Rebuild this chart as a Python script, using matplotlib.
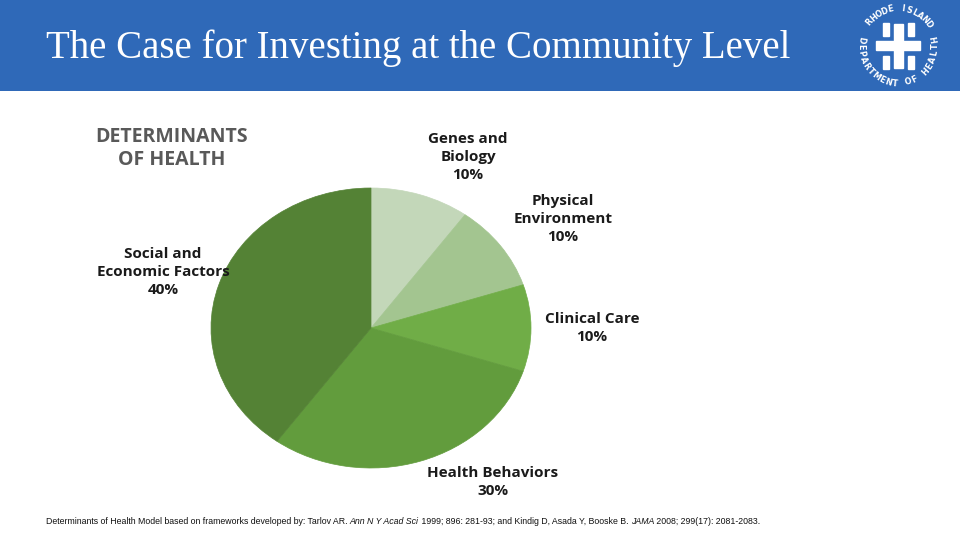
import numpy as np
import matplotlib
matplotlib.use("Agg")
import matplotlib.pyplot as plt
from matplotlib.patches import Rectangle, Circle

# ---- data ----
categories = ["Genes and\nBiology", "Physical\nEnvironment", "Clinical Care",
              "Health Behaviors", "Social and\nEconomic Factors"]
values = [10, 10, 10, 30, 40]
colors = ["#c3d7b9", "#a3c590", "#70ad47", "#629c3d", "#548235"]
title = "The Case for Investing at the Community Level"
chart_heading = "DETERMINANTS\nOF HEALTH"
footnote_parts = [
    ("Determinants of Health Model based on frameworks developed by: Tarlov AR. ", "normal"),
    ("Ann N Y Acad Sci", "italic"),
    (" 1999; 896: 281-93; and Kindig D, Asada Y, Booske B. ", "normal"),
    ("JAMA", "italic"),
    (" 2008; 299(17): 2081-2083.", "normal"),
]

W, H = 960, 540
fig = plt.figure(figsize=(W / 100, H / 100), dpi=100)
fig.patch.set_facecolor("white")

def fx(px):
    return px / W

def fy(py):
    return 1 - py / H

# header band
fig.patches.append(Rectangle((0, fy(91)), 1, 91 / H, transform=fig.transFigure,
                             facecolor="#2f69b8", edgecolor="none", zorder=0))
fig.text(fx(46), fy(48), title, color="white", fontsize=28,
         family="Liberation Serif", va="center", ha="left")

# logo (approximation)
lax = fig.add_axes([fx(850), fy(94), 96 / W, 96 / H], zorder=5)
lax.set_xlim(-1, 1); lax.set_ylim(-1, 1); lax.axis("off")
lax.patch.set_alpha(0)
top_txt = "RHODE ISLAND"
ang = np.linspace(140, 35, len(top_txt))
for ch, a in zip(top_txt, ang):
    r = 0.78
    lax.text(r * np.cos(np.radians(a)), r * np.sin(np.radians(a)), ch, color="white",
             fontsize=5.8, ha="center", va="center", rotation=a - 90, family="DejaVu Sans",
             fontweight="bold")
bot_txt = "DEPARTMENT OF HEALTH"
ang2 = np.linspace(170, 370, len(bot_txt))
for ch, a in zip(bot_txt, ang2):
    r = 0.78
    lax.text(r * np.cos(np.radians(a)), r * np.sin(np.radians(a)), ch, color="white",
             fontsize=5.8, ha="center", va="center", rotation=a + 90, family="DejaVu Sans",
             fontweight="bold")
lax.add_patch(Rectangle((-0.45, -0.08), 0.9, 0.18, color="white"))
lax.add_patch(Rectangle((-0.08, -0.45), 0.18, 0.9, color="white"))
lax.add_patch(Rectangle((-0.32, 0.2), 0.14, 0.28, color="white"))
lax.add_patch(Rectangle((-0.32, -0.48), 0.14, 0.28, color="white"))
lax.add_patch(Rectangle((0.2, 0.2), 0.14, 0.28, color="white"))
lax.add_patch(Rectangle((0.2, -0.48), 0.14, 0.28, color="white"))

# pie (slightly elliptical)
ax = fig.add_axes([fx(211), fy(468), 320 / W, 280 / H])
wedges, _ = ax.pie(values, colors=colors, startangle=90, counterclock=False,
                   wedgeprops=dict(linewidth=0.5))
for w, c in zip(wedges, colors):
    w.set_edgecolor(c)
ax.set_aspect("auto")
ax.set_xlim(-1, 1); ax.set_ylim(-1, 1)
ax.axis("off")

# labels
label_font = dict(family="Open Sans", fontweight="bold", fontsize=11, color="#1a1a1a",
                  ha="center", va="center", linespacing=1.35)
label_pos = [(468, 157), (563, 219), (592, 328), (493, 482), (163, 272)]
for cat, v, (px, py) in zip(categories, values, label_pos):
    fig.text(fx(px), fy(py), f"{cat}\n{v}%", **label_font)

fig.text(fx(172), fy(148), chart_heading, family="Open Sans", fontweight="bold",
         fontsize=14, color="#595959", ha="center", va="center", linespacing=1.2)

# footnote
fig.canvas.draw()
renderer = fig.canvas.get_renderer()
x = fx(46)
for txt, style in footnote_parts:
    t = fig.text(x, fy(521), txt, fontsize=6.3, style=style, family="Liberation Sans",
                 color="#111111", ha="left", va="center")
    bb = t.get_window_extent(renderer)
    x += bb.width / W

fig.savefig("out.png", dpi=100)
